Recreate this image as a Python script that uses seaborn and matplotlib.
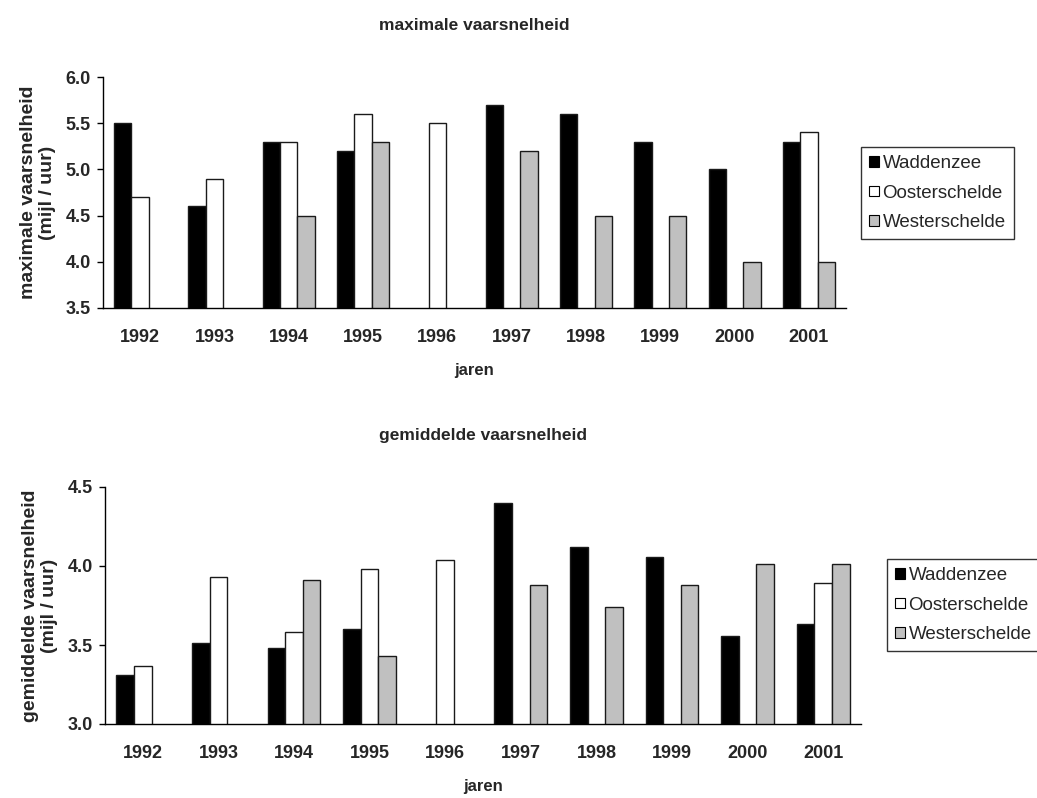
import numpy as np
import pandas as pd
import seaborn as sns
import matplotlib.pyplot as plt
from matplotlib.patches import Patch

years = ["1992", "1993", "1994", "1995", "1996", "1997", "1998", "1999", "2000", "2001"]
series = ["Waddenzee", "Oosterschelde", "Westerschelde"]

# maximale vaarsnelheid (mijl / uur)
max_wadden = [5.5, 4.6, 5.3, 5.2, np.nan, 5.7, 5.6, 5.3, 5.0, 5.3]
max_ooster = [4.7, 4.9, 5.3, 5.6, 5.5, np.nan, np.nan, np.nan, np.nan, 5.4]
max_wester = [np.nan, np.nan, 4.5, 5.3, np.nan, 5.2, 4.5, 4.5, 4.0, 4.0]

# gemiddelde vaarsnelheid (mijl / uur)
gem_wadden = [3.31, 3.51, 3.48, 3.60, np.nan, 4.40, 4.12, 4.06, 3.56, 3.63]
gem_ooster = [3.37, 3.93, 3.58, 3.98, 4.04, np.nan, np.nan, np.nan, np.nan, 3.89]
gem_wester = [np.nan, np.nan, 3.91, 3.43, np.nan, 3.88, 3.74, 3.88, 4.01, 4.01]

colors = {"Waddenzee": "#000000", "Oosterschelde": "#ffffff", "Westerschelde": "#c0c0c0"}

sns.set_theme(style="white")
plt.rcParams["font.family"] = ["Liberation Sans", "DejaVu Sans"]


def long_table(w, o, s):
    df = pd.DataFrame({"jaar": years, series[0]: w, series[1]: o, series[2]: s})
    df = df.melt(id_vars="jaar", var_name="gebied", value_name="snelheid")
    return df.dropna()


def draw(ax, df, ylim, yticks, ylabel, title, legend_anchor):
    sns.barplot(data=df, x="jaar", y="snelheid", hue="gebied", order=years,
                hue_order=series, palette=colors, width=0.7, edgecolor="#1a1a1a",
                linewidth=1.0, saturation=1, ax=ax, legend=False)
    ax.set_xlim(-0.5, len(years) - 0.5)
    ax.set_ylim(*ylim)
    ax.set_yticks(yticks)
    ax.set_yticklabels([f"{t:.1f}" for t in yticks], fontweight="bold", fontsize=13)
    ax.set_xticks(range(len(years)))
    ax.set_xticklabels(years, fontweight="bold", fontsize=13)
    ax.set_xticks(np.arange(-0.5, len(years)), minor=True)
    ax.tick_params(axis="x", which="major", length=0, pad=15)
    ax.tick_params(axis="x", which="minor", length=5, width=1, color="black", direction="out")
    ax.tick_params(axis="y", length=4, width=1, color="black", direction="out", left=True, pad=5)
    for side in ("top", "right"):
        ax.spines[side].set_visible(False)
    for side in ("left", "bottom"):
        ax.spines[side].set_color("black")
        ax.spines[side].set_linewidth(1)
    ax.set_xlabel("jaren", fontweight="bold", fontsize=12, labelpad=12)
    ax.set_ylabel(ylabel, fontweight="bold", fontsize=14, labelpad=7, linespacing=1.15)
    ax.set_title(title, fontweight="bold", fontsize=12.5, pad=34, x=0.5)
    handles = [Patch(facecolor=colors[s], edgecolor="black", linewidth=0.8, label=s) for s in series]
    leg = ax.figure.legend(handles=handles, loc="upper left", bbox_to_anchor=legend_anchor,
                           bbox_transform=ax.figure.transFigure, frameon=True, fancybox=False,
                           edgecolor="black", fontsize=13.5, handlelength=0.5, handleheight=0.5,
                           handletextpad=0.2, labelspacing=0.65, borderpad=0.45, borderaxespad=0)
    leg.get_frame().set_linewidth(1)


fig = plt.figure(figsize=(10.37, 7.98), dpi=100)
ax1 = fig.add_axes([103 / 1037, 1 - 308 / 798, 743 / 1037, 231 / 798])
ax2 = fig.add_axes([105 / 1037, 1 - 724 / 798, 756 / 1037, 237 / 798])

draw(ax1, long_table(max_wadden, max_ooster, max_wester), (3.5, 6.0),
     [3.5, 4.0, 4.5, 5.0, 5.5, 6.0], "maximale vaarsnelheid\n(mijl / uur)",
     "maximale vaarsnelheid", (861 / 1037, 1 - 147 / 798))
draw(ax2, long_table(gem_wadden, gem_ooster, gem_wester), (3.0, 4.5),
     [3.0, 3.5, 4.0, 4.5], "gemiddelde vaarsnelheid\n(mijl / uur)",
     "gemiddelde vaarsnelheid", (887 / 1037, 1 - 559 / 798))

fig.savefig("out.png", dpi=100, facecolor="white")
